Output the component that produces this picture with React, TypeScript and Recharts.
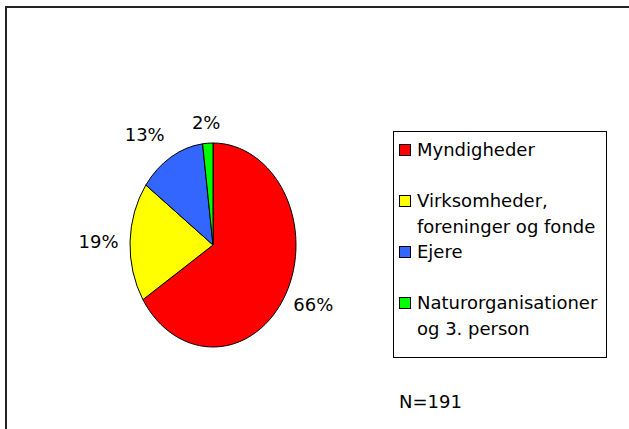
import React from 'react';
import { PieChart, Pie, Cell, Legend } from 'recharts';

const categories = ['Myndigheder', 'Virksomheder, foreninger og fonde', 'Ejere', 'Naturorganisationer og 3. person'];
const legendLines = [['Myndigheder'], ['Virksomheder,', 'foreninger og fonde'], ['Ejere'], ['Naturorganisationer', 'og 3. person']];
const shares = [66, 19, 13, 2];
const sliceColors = ['#ff0000', '#ffff00', '#3366ff', '#00ff00'];
const sampleNote = 'N=191';

const data = categories.map((name, i) => ({ name, value: shares[i] }));

const FONT = '"DejaVu Sans", Verdana, sans-serif';
const Y_STRETCH = 102 / 83;
const RAD = Math.PI / 180;

// excel stretched the pie into an ellipse, so sectors are drawn by hand from recharts' angles
const EllipseSector = (props: any) => {
  const { cx, cy, outerRadius, startAngle, endAngle, fill } = props;
  const rx = outerRadius;
  const ry = outerRadius * Y_STRETCH;
  const x1 = cx + rx * Math.cos(startAngle * RAD);
  const y1 = cy - ry * Math.sin(startAngle * RAD);
  const x2 = cx + rx * Math.cos(endAngle * RAD);
  const y2 = cy - ry * Math.sin(endAngle * RAD);
  const large = Math.abs(endAngle - startAngle) > 180 ? 1 : 0;
  const sweep = startAngle > endAngle ? 1 : 0;
  const d = `M${cx},${cy} L${x1},${y1} A${rx},${ry} 0 ${large} ${sweep} ${x2},${y2} Z`;
  return <path d={d} fill={fill} stroke="#000" strokeWidth={1} strokeLinejoin="round" />;
};

const renderLabel = (props: any) => {
  const { cx, cy, outerRadius, midAngle, percent } = props;
  const c = Math.cos(midAngle * RAD);
  const s = Math.sin(midAngle * RAD);
  const px = cx + (outerRadius + 12) * c;
  const py = cy - (outerRadius * Y_STRETCH + 12) * s;
  const txt = `${Math.round(percent * 100)}%`;
  const hw = txt.length * 6.5;
  // upper-left labels sit a bit further out in the original
  const nudge = c < -0.2 && s > 0.2 ? 10 : 0;
  return (
    <text
      x={px + hw * c - nudge}
      y={py - 9 * s - nudge / 2}
      textAnchor="middle"
      dominantBaseline="central"
      fontFamily={FONT}
      fontSize={18}
      fill="#000"
    >
      {txt}
    </text>
  );
};

const LegendBox = (props: any) => {
  const payload = [...(props.payload || [])].sort(
    (a: any, b: any) => categories.indexOf(a.value) - categories.indexOf(b.value)
  );
  return (
    <div
      style={{
        border: '1px solid #000',
        background: '#fff',
        padding: '5px 0 17px 5px',
        fontFamily: FONT,
        fontSize: 18,
        lineHeight: '25.5px',
        color: '#000',
        boxSizing: 'border-box',
        width: 214,
        height: 227,
      }}
    >
      {payload.map((entry: any, i: number) => {
        const idx = categories.indexOf(entry.value);
        const lines = legendLines[idx] || [entry.value];
        return (
          <div key={`leg-${i}`} style={{ position: 'relative', paddingLeft: 18, height: 51 }}>
            <span
              style={{
                position: 'absolute',
                left: 0,
                top: 7,
                width: 10,
                height: 10,
                background: entry.color,
                border: '1px solid #000',
              }}
            />
            {lines.map((ln, j) => (
              <div key={j} style={{ whiteSpace: 'nowrap' }}>{ln}</div>
            ))}
          </div>
        );
      })}
    </div>
  );
};

export default function App() {
  return (
    <div style={{ position: 'absolute', left: 0, top: 0, width: 629, height: 429, overflow: 'hidden', background: '#fff' }}>
      <div
        style={{
          position: 'absolute',
          left: 5,
          top: 6,
          width: 700,
          height: 500,
          borderLeft: '2px solid #222',
          borderTop: '2px solid #222',
        }}
      />
      <PieChart
        width={629}
        height={429}
        margin={{ top: 0, right: 0, bottom: 0, left: 0 }}
        style={{ position: 'absolute', left: 0, top: 0 }}
      >
        <Pie
          data={data}
          dataKey="value"
          nameKey="name"
          cx={213}
          cy={245}
          outerRadius={83}
          startAngle={90}
          endAngle={-270}
          shape={EllipseSector}
          activeShape={EllipseSector}
          inactiveShape={EllipseSector}
          label={renderLabel}
          labelLine={false}
          isAnimationActive={false}
        >
          {data.map((d, i) => (
            <Cell key={`cell-${i}`} fill={sliceColors[i]} />
          ))}
        </Pie>
        <Legend
          layout="vertical"
          content={<LegendBox />}
          wrapperStyle={{ position: 'absolute', left: 393, top: 131, width: 214, height: 227 }}
        />
      </PieChart>
      <div
        style={{
          position: 'absolute',
          left: 399,
          top: 391,
          fontFamily: FONT,
          fontSize: 18,
          color: '#000',
        }}
      >
        {sampleNote}
      </div>
    </div>
  );
}
